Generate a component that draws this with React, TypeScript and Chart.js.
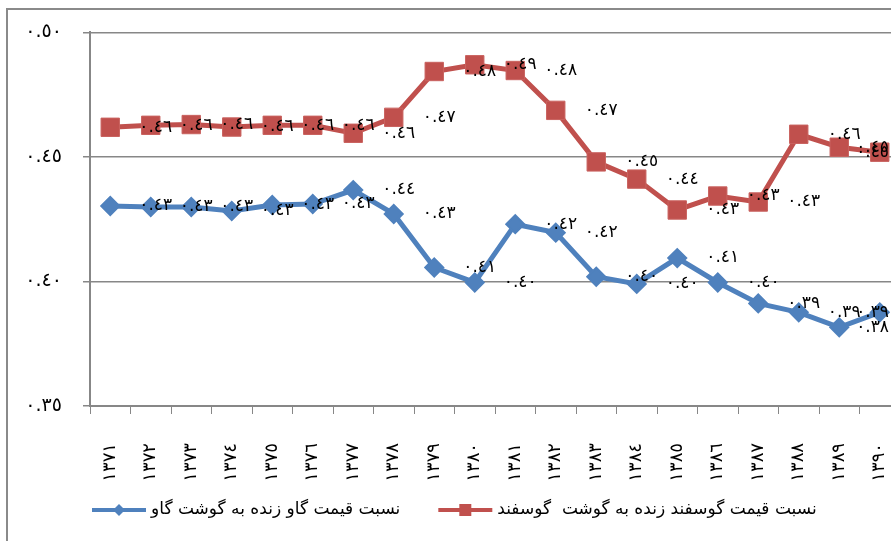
import React, { useEffect, useRef } from 'react';
import { Chart, registerables } from 'chart.js';

Chart.register(...registerables);

const years = ['١٣٧١', '١٣٧٢', '١٣٧٣', '١٣٧٤', '١٣٧٥', '١٣٧٦', '١٣٧٧', '١٣٧٨', '١٣٧٩', '١٣٨٠', '١٣٨١', '١٣٨٢', '١٣٨٣', '١٣٨٤', '١٣٨٥', '١٣٨٦', '١٣٨٧', '١٣٨٨', '١٣٨٩', '١٣٩٠'];
const cowRatio = [0.4303, 0.4299, 0.4299, 0.4283, 0.4307, 0.4311, 0.4367, 0.4271, 0.4056, 0.3996, 0.423, 0.4196, 0.4019, 0.399, 0.4094, 0.3996, 0.3912, 0.3876, 0.3816, 0.3876];
const sheepRatio = [0.4619, 0.4627, 0.463, 0.462, 0.4627, 0.4627, 0.4595, 0.4659, 0.4843, 0.487, 0.4847, 0.4687, 0.448, 0.4411, 0.4287, 0.4343, 0.4319, 0.4591, 0.4539, 0.4519];
const cowName = 'نسبت قیمت گاو زنده به گوشت گاو';
const sheepName = 'نسبت قیمت گوسفند زنده به گوشت  گوسفند';
const yTickValues = [0.35, 0.4, 0.45, 0.5];
const yTickLabels = ['٠.٣٥', '٠.٤٠', '٠.٤٥', '٠.٥٠'];

const BLUE = '#4F81BD';
const RED = '#C0504D';
const GRID = '#878787';
const FONT = '"DejaVu Sans", sans-serif';
const VIEW_W = 891;
const CANVAS_W = 940;
const CANVAS_H = 541;
const AREA = { left: 90, right: 900, top: 31 };

const toArabicDigits = (s: string) => s.replace(/[0-9]/g, (d) => '٠١٢٣٤٥٦٧٨٩'[Number(d)]);

const framePlugin = {
  id: 'frame',
  beforeDraw(chart: any) {
    const ctx = chart.ctx;
    ctx.save();
    ctx.fillStyle = '#ffffff';
    ctx.fillRect(0, 0, chart.width, chart.height);
    ctx.strokeStyle = '#8a8a8a';
    ctx.lineWidth = 2;
    ctx.beginPath();
    ctx.moveTo(7, chart.height + 5);
    ctx.lineTo(7, 9);
    ctx.lineTo(chart.width + 5, 9);
    ctx.stroke();
    ctx.restore();
  },
};

const dataLabelPlugin = {
  id: 'dataLabels',
  afterDatasetsDraw(chart: any) {
    const ctx = chart.ctx;
    ctx.save();
    ctx.font = `17px ${FONT}`;
    ctx.fillStyle = '#000';
    ctx.textBaseline = 'middle';
    ctx.textAlign = 'left';
    chart.data.datasets.forEach((ds: any, i: number) => {
      const meta = chart.getDatasetMeta(i);
      meta.data.forEach((pt: any, j: number) => {
        const text = toArabicDigits(Number(ds.data[j]).toFixed(2));
        const w = ctx.measureText(text).width;
        let x = pt.x + 29;
        if (x + w > VIEW_W - 2) x = VIEW_W - 2 - w;
        ctx.fillText(text, x, pt.y);
      });
    });
    ctx.restore();
  },
};

const legendPlugin = {
  id: 'customLegend',
  afterDraw(chart: any) {
    const ctx = chart.ctx;
    ctx.save();
    ctx.font = `17px ${FONT}`;
    ctx.textBaseline = 'middle';
    ctx.textAlign = 'left';
    const y = 510;
    let x = 92;
    chart.data.datasets.forEach((ds: any) => {
      const lineLen = 54;
      ctx.strokeStyle = ds.borderColor;
      ctx.lineWidth = 4;
      ctx.beginPath();
      ctx.moveTo(x, y);
      ctx.lineTo(x + lineLen, y);
      ctx.stroke();
      const cx = x + lineLen / 2;
      ctx.fillStyle = ds.borderColor;
      if (ds.pointStyle === 'rectRot') {
        ctx.beginPath();
        ctx.moveTo(cx, y - 6);
        ctx.lineTo(cx + 6, y);
        ctx.lineTo(cx, y + 6);
        ctx.lineTo(cx - 6, y);
        ctx.closePath();
        ctx.fill();
      } else {
        ctx.fillRect(cx - 6, y - 6, 12, 12);
      }
      ctx.fillStyle = '#000';
      const tx = x + lineLen + 5;
      ctx.fillText(ds.label, tx, y);
      x = tx + ctx.measureText(ds.label).width + 38;
    });
    ctx.restore();
  },
};

export default function App() {
  const canvasRef = useRef<HTMLCanvasElement | null>(null);

  useEffect(() => {
    const canvas = canvasRef.current;
    if (!canvas) return;
    const chart: any = new Chart(canvas, {
      type: 'line',
      data: {
        labels: years,
        datasets: [
          {
            label: cowName,
            data: cowRatio,
            borderColor: BLUE,
            backgroundColor: BLUE,
            borderWidth: 5,
            pointStyle: 'rectRot',
            pointRadius: 9,
            pointBorderWidth: 2,
            pointBackgroundColor: BLUE,
            pointBorderColor: BLUE,
            tension: 0,
          },
          {
            label: sheepName,
            data: sheepRatio,
            borderColor: RED,
            backgroundColor: RED,
            borderWidth: 5,
            pointStyle: 'rect',
            pointRadius: 13,
            pointBorderWidth: 1,
            pointBackgroundColor: RED,
            pointBorderColor: '#c9625f',
            tension: 0,
          },
        ],
      },
      options: {
        responsive: false,
        animation: false,
        devicePixelRatio: 1,
        layout: { padding: { top: 31, right: 40, left: 0, bottom: 0 } },
        plugins: {
          legend: { display: false },
          tooltip: { enabled: false },
        },
        scales: {
          x: {
            type: 'category',
            offset: true,
            grid: {
              display: true,
              offset: true,
              drawOnChartArea: false,
              drawTicks: true,
              tickLength: 8,
              color: GRID,
              lineWidth: 1,
            },
            border: { display: true, color: GRID, width: 2 },
            ticks: {
              autoSkip: false,
              minRotation: 90,
              maxRotation: 90,
              padding: 29,
              color: '#000',
              font: { family: FONT, size: 18 },
            },
            afterFit(scale: any) {
              scale.height = 135;
            },
          },
          y: {
            min: 0.35,
            max: 0.5,
            afterBuildTicks(scale: any) {
              scale.ticks = yTickValues.map((v) => ({ value: v }));
            },
            grid: {
              color: GRID,
              lineWidth: 1.5,
              tickLength: 7,
              drawTicks: true,
            },
            border: { display: true, color: GRID, width: 2 },
            ticks: {
              padding: 21,
              color: '#000',
              font: { family: FONT, size: 19 },
              callback: (value: any) => {
                const idx = yTickValues.findIndex((v) => Math.abs(v - Number(value)) < 1e-9);
                return idx >= 0 ? yTickLabels[idx] : '';
              },
            },
            afterFit(scale: any) {
              scale.width = 90;
            },
          },
        },
      },
      plugins: [framePlugin, dataLabelPlugin, legendPlugin],
    });

    // Calibrate the plot area so that it lands where the reference has it.
    for (let k = 0; k < 3; k++) {
      const ca = chart.chartArea;
      const pad = chart.options.layout.padding;
      const dr = ca.right - AREA.right;
      const dl = AREA.left - ca.left;
      const dt = AREA.top - ca.top;
      if (Math.abs(dr) < 0.5 && Math.abs(dl) < 0.5 && Math.abs(dt) < 0.5) break;
      pad.right = Math.max(0, pad.right + dr);
      pad.left = Math.max(0, pad.left + dl);
      pad.top = Math.max(0, pad.top + dt);
      chart.update();
    }

    return () => chart.destroy();
  }, []);

  return (
    <div style={{ position: 'fixed', left: 0, top: 0, width: CANVAS_W, height: CANVAS_H, overflow: 'hidden' }}>
      <canvas ref={canvasRef} width={CANVAS_W} height={CANVAS_H} style={{ display: 'block' }} />
    </div>
  );
}
